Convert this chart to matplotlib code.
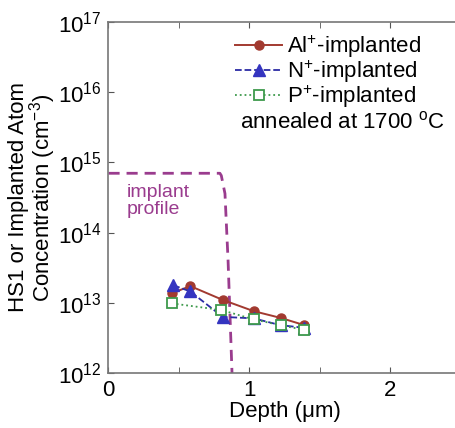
import numpy as np
import matplotlib.pyplot as plt
from matplotlib.ticker import FixedLocator, LogLocator, NullLocator

plt.rcParams['font.family'] = ['Liberation Sans', 'DejaVu Sans']
plt.rcParams['mathtext.fontset'] = 'custom'
plt.rcParams['mathtext.rm'] = 'Liberation Sans'
plt.rcParams['mathtext.it'] = 'Liberation Sans:italic'

# data
al_depth = [0.45, 0.58, 0.81, 1.03, 1.22, 1.39]
al_conc = [1.37e13, 1.73e13, 1.1e13, 7.6e12, 6.1e12, 4.8e12]

n_depth = [0.46, 0.58, 0.81, 1.03, 1.22, 1.39]
n_conc = [1.78e13, 1.45e13, 6.3e12, 6.0e12, 4.8e12, 4.4e12]

p_depth = [0.45, 0.80, 1.03, 1.22, 1.39]
p_conc = [9.8e12, 7.9e12, 5.8e12, 4.8e12, 4.1e12]

prof_depth = [0.0, 0.79, 0.80, 0.826, 0.848, 0.876, 0.9]
prof_conc = [7e14, 7e14, 6.5e14, 3.6e14, 4e13, 1e12, 1e11]

fig = plt.figure(figsize=(4.56, 4.28), dpi=100)
ax = fig.add_axes([108.5 / 456, 1 - 373 / 428, 352.5 / 456, 351 / 428])

purple = '#9a3c8e'
ax.plot(prof_depth, prof_conc, ls=(0, (4, 2.5)), color=purple, lw=2)
ax.text(0.13, 2.8e14, 'implant\nprofile', color=purple, fontsize=14,
        va='center', ha='left', linespacing=1.0)

ax.plot(al_depth, al_conc, '-o', color='#a23a30', mfc='#a23a30', mec='#a23a30',
        ms=6.5, lw=1.4, label='Al$^{+}$-implanted')
ax.plot(n_depth, n_conc, '--^', color='#2b2ba5', mfc='#3434c0', mec='#3434c0',
        ms=8, lw=1.3, label='N$^{+}$-implanted')
ax.plot(p_depth, p_conc, ':s', color='#3e9a4c', mfc='white', mec='#3e9a4c',
        ms=7.5, mew=1.3, lw=1.3, label='P$^{+}$-implanted')

ax.set_yscale('log')
ax.set_xlim(0, 2.5)
ax.set_ylim(1e12, 1e17)

ax.xaxis.set_major_locator(FixedLocator([0, 1, 2]))
ax.xaxis.set_minor_locator(FixedLocator([0.5, 1.5]))
ax.yaxis.set_major_locator(LogLocator(base=10, numticks=10))
ax.yaxis.set_minor_locator(NullLocator())
ax.tick_params(which='both', direction='in', top=True, right=False,
               labelsize=16, color='#555555', pad=5)
ax.tick_params(which='major', length=4)
ax.tick_params(which='minor', length=4)
for s in ['left', 'bottom', 'top']:
    ax.spines[s].set_color('#777777')
    ax.spines[s].set_linewidth(1.2)
ax.spines['right'].set_visible(False)

ax.set_xlabel('Depth (\u03bcm)', fontsize=16, labelpad=0)
ax.set_ylabel('HS1 or Implanted Atom\nConcentration (cm$^{-3}$)', fontsize=16,
              linespacing=0.95)
ax.yaxis.set_label_coords(-0.142, 0.5)

leg = ax.legend(loc='upper left', bbox_to_anchor=(0.36, 0.968), frameon=False,
                fontsize=16, handlelength=2.1, handletextpad=0.2,
                labelspacing=-0.06, borderaxespad=0, borderpad=0)
ax.text(0.373, 0.715, 'annealed at 1700 $^{\\rm o}$C', transform=ax.transAxes,
        fontsize=16, ha='left', va='center')

fig.savefig('out.png', dpi=100)
